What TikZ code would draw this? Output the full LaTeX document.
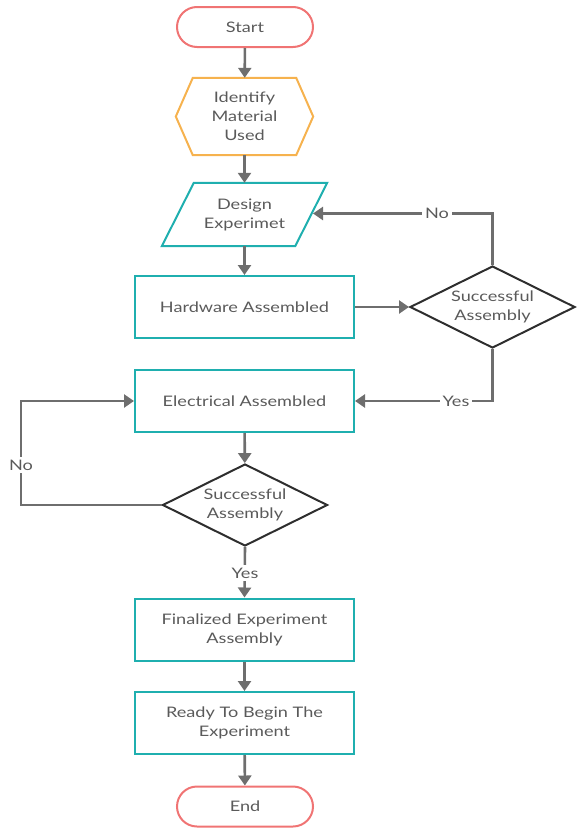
\documentclass[tikz,border=0pt]{standalone}
\usepackage{fontspec}
\setmainfont{Lato}[FakeStretch=1.25]
\usetikzlibrary{shapes.geometric,arrows.meta,calc}
\definecolor{termred}{HTML}{F07474}
\definecolor{hexorange}{HTML}{F6B24E}
\definecolor{boxteal}{HTML}{1FAFAF}
\definecolor{linegray}{HTML}{6E6E6E}
\definecolor{txtgray}{HTML}{5A5A5A}
\definecolor{decblack}{HTML}{2E2E2E}
\tikzset{
  base/.style={font=\fontsize{14.5}{19}\selectfont, text=txtgray, align=center, inner sep=0pt},
  term/.style={base, draw=termred, line width=2pt, rounded corners=20pt, minimum width=136pt, minimum height=40pt},
  procbox/.style={base, draw=boxteal, line width=2pt, minimum width=219pt, minimum height=62pt},
  ghost/.style={base, draw=none},
  decision/.style={base, diamond, draw=decblack, line width=2pt, aspect=2, minimum width=165pt, minimum height=82pt},
  conn/.style={draw=linegray, line width=2.6pt, -{Triangle[width=13pt,length=10pt]}},
  lbl/.style={base, fill=white, inner sep=3pt}
}
\begin{document}
\begin{tikzpicture}[x=1pt,y=-1pt]
\useasboundingbox (0,0) rectangle (576,830);
% nodes
\node[term] (start) at (245,27) {Start};
\node[ghost, minimum width=137pt, minimum height=77pt] (ident) at (244.5,116.5) {Identify\\Material\\Used};
\draw[hexorange, line width=2pt, line join=miter]
  (ident.west) -- ($(ident.north west)+(17,0)$) -- ($(ident.north east)+(-17,0)$) -- (ident.east)
  -- ($(ident.south east)+(-17,0)$) -- ($(ident.south west)+(17,0)$) -- cycle;
\node[ghost, minimum width=165pt, minimum height=63pt] (design) at (244.5,214.5) {Design\\Experimet};
\draw[boxteal, line width=2pt]
  ($(design.north west)+(32,0)$) -- (design.north east) -- ($(design.south east)+(-32,0)$) -- (design.south west) -- cycle;
\coordinate (designR) at (313,213.5);
\node[procbox] (hw) at (244.5,307) {Hardware Assembled};
\node[decision] (d1) at (492.5,307) {Successful\\Assembly};
\node[procbox] (el) at (244.5,401) {Electrical Assembled};
\node[decision] (d2) at (245,505) {Successful\\Assembly};
\node[procbox] (fin) at (244.5,629.5) {Finalized Experiment\\Assembly};
\node[procbox] (ready) at (244.5,723) {Ready To Begin The\\Experiment};
\node[term] (end) at (245,806.5) {End};
% connectors
\draw[conn] (start) -- (ident);
\draw[conn] (ident) -- (design);
\draw[conn] (design) -- (hw);
\draw[conn] (hw) -- (d1);
\coordinate (noTop) at (492.5,213.5);
\draw[conn] (d1.north) -- (noTop) -- (designR);
\node[lbl] (no1) at (437,213.5) {No};
\coordinate (yesCorner) at (492.5,401);
\draw[conn] (d1.south) -- (yesCorner) -- (el.east);
\node[lbl] (yes1) at (456,401) {Yes};
\draw[conn] (el) -- (d2);
\coordinate (noL1) at (21,505);
\coordinate (noL2) at (21,401);
\draw[conn] (d2.west) -- (noL1) -- (noL2) -- (el.west);
\node[lbl] (no2) at (21,465) {No};
\draw[conn] (d2.south) -- (fin.north);
\node[lbl] (yes2) at (245,573) {Yes};
\draw[conn] (fin) -- (ready);
\draw[conn] (ready) -- (end);
\end{tikzpicture}
\end{document}
